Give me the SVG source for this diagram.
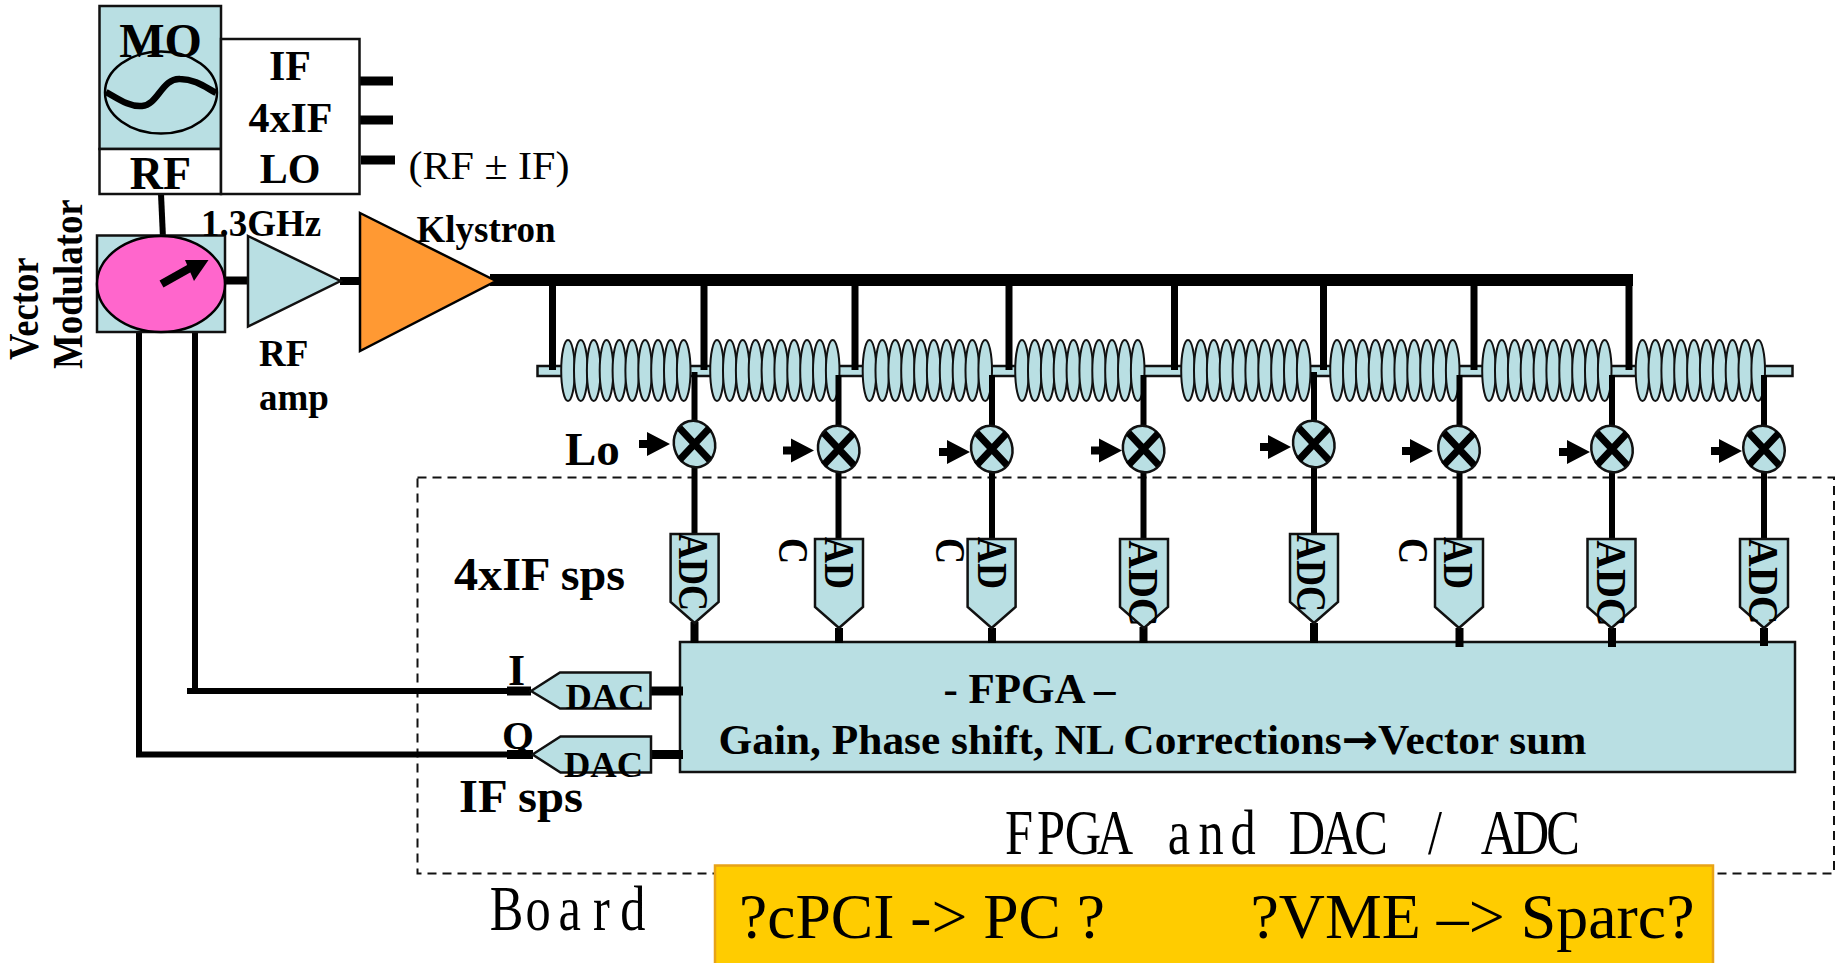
<svg xmlns="http://www.w3.org/2000/svg" xmlns:xlink="http://www.w3.org/1999/xlink" width="1835" height="963" viewBox="0 0 1835 963">
<style>
text{font-family:"Liberation Serif","Times New Roman",serif;fill:#000}
.b{font-weight:bold}
.t{fill:#b9dfe3;stroke:#111;stroke-width:2.5}
.c{fill:#b9dfe3;stroke:#111;stroke-width:2}
.w{fill:#fff;stroke:#111;stroke-width:2.5}
.l{fill:none;stroke:#000;stroke-linecap:butt}
.s6{stroke-width:6}.s7{stroke-width:7}.s8{stroke-width:8}.s9{stroke-width:9}.s12{stroke-width:12}
.m{font-size:36px;font-weight:bold}
</style>
<defs>
<g id="cav">
<ellipse class="c" cx="7" cy="370.5" rx="6.8" ry="30.5"/><ellipse class="c" cx="19.8" cy="370.5" rx="6.8" ry="30.5"/><ellipse class="c" cx="32.7" cy="370.5" rx="6.8" ry="30.5"/><ellipse class="c" cx="45.5" cy="370.5" rx="6.8" ry="30.5"/><ellipse class="c" cx="58.4" cy="370.5" rx="6.8" ry="30.5"/><ellipse class="c" cx="71.2" cy="370.5" rx="6.8" ry="30.5"/><ellipse class="c" cx="84.1" cy="370.5" rx="6.8" ry="30.5"/><ellipse class="c" cx="97" cy="370.5" rx="6.8" ry="30.5"/><ellipse class="c" cx="109.8" cy="370.5" rx="6.8" ry="30.5"/><ellipse class="c" cx="122.7" cy="370.5" rx="6.8" ry="30.5"/>
</g>
<g id="mix">
<ellipse class="t" rx="20.5" ry="23.5" transform="rotate(-15)"/>
<path class="l" d="M-15-16L15 16M15-16L-15 16" stroke-width="7"/>
</g>
<polygon id="lo" points="-31,-4 -23,-4 -23,-12 0,0 -23,12 -23,4 -31,4" fill="#000"/>
<polygon id="adc" class="t" points="-24,0 24,0 24,68 0,89 -24,68"/>
</defs>

<g id="dashed-board"><path d="M417.5 477.5H1834V873.5H417.5Z" fill="none" stroke="#111" stroke-width="2" stroke-dasharray="9 6"/></g>

<g id="cavities">
<rect class="t" x="537.5" y="366" width="1255" height="10"/>
<use xlink:href="#cav" x="561"/><use xlink:href="#cav" x="710"/><use xlink:href="#cav" x="862.5"/><use xlink:href="#cav" x="1015"/><use xlink:href="#cav" x="1181"/><use xlink:href="#cav" x="1330"/><use xlink:href="#cav" x="1482"/><use xlink:href="#cav" x="1635.5"/>
</g>

<g id="fpga">
<rect class="t" x="680" y="642" width="1115" height="130"/>
<text class="b" x="943.5" y="703" font-size="42" textLength="172" lengthAdjust="spacingAndGlyphs">- FPGA –</text>
<text class="b" x="718.5" y="754" font-size="42" textLength="868" lengthAdjust="spacingAndGlyphs">Gain, Phase shift, NL Corrections<tspan style="font-family:'DejaVu Sans',sans-serif">→</tspan>Vector sum</text>
</g>

<g id="connectors">
<path class="l s6" d="M161 194L163 238"/>
<path class="l s8" d="M225 280.5H250M340 281H362"/>
<path class="l s12" d="M490 280H1633"/>
<path class="l s7" d="M552.5 280V370M704 280V370M855 280V370M1009 280V370M1174.5 280V370M1323.5 280V370M1474 280V370M1629 280V370"/>
<path class="l s6" d="M694.5 372V534M838.5 375V539M992 375V539M1143.5 375V539M1314 372V534M1459.5 375V539M1612 375V539M1764 375V539"/>
<path class="l s8" d="M694.5 622V643M839 628V643M992 628V643M1143.5 627V643M1314 623V643M1459.5 628V647M1612 628V647M1764 628V646"/>
<path class="l s9" d="M360 81H393M360 120H393M361 160H395"/>
<path class="l s6" d="M195 332V691M187 691H531M139 332V754.5M136 754.5H533"/>
<path class="l s9" d="M507 691H531M507 754.5H533M650 691H683M651 754.5H683"/>
</g>

<g id="mo">
<rect class="t" x="99.5" y="6" width="121.5" height="143"/>
<ellipse fill="#b9dfe3" stroke="#000" stroke-width="2.5" cx="161" cy="92.5" rx="56" ry="41"/>
<path class="l" stroke-width="6.5" d="M106 92C120 100 130 107 142 106C158 105 162 78 180 79C195 79 205 87 216 93"/>
<text class="b" x="160.5" y="57" font-size="48" text-anchor="middle">MO</text>
</g>
<g id="rf"><rect class="w" x="99.5" y="149" width="121.5" height="45"/><text class="b" x="160.5" y="189" font-size="46" text-anchor="middle">RF</text></g>
<g id="if-box"><rect class="w" x="221" y="39" width="138.5" height="155"/>
<text class="b" x="290" y="80" font-size="42" text-anchor="middle">IF</text>
<text class="b" x="290.5" y="132" font-size="42" text-anchor="middle">4xIF</text>
<text class="b" x="290" y="183" font-size="42" text-anchor="middle">LO</text></g>
<g id="rf-if-label"><text x="408.5" y="179" font-size="41" textLength="161" lengthAdjust="spacingAndGlyphs">(RF ± IF)</text></g>

<g id="vector-modulator">
<rect class="t" x="97" y="235.5" width="128" height="96.5"/>
<ellipse fill="#ff66cc" stroke="#000" stroke-width="2.5" cx="161" cy="284" rx="64" ry="48"/>
<path class="l s8" d="M161.5 284L190 268"/>
<polygon points="208.5,260 185,260 194,281" fill="#000"/>
<text class="b" transform="translate(38,360) rotate(-90) scale(1,1.17)" font-size="36.7">Vector</text>
<text class="b" transform="translate(82,369) rotate(-90) scale(1,1.17)" font-size="36.8">Modulator</text>
</g>
<g id="rf-amp"><polygon class="t" points="248,236 340.5,281 248,326.5"/>
<text class="b" x="259" y="365.5" font-size="37">RF</text><text class="b" x="259" y="410" font-size="37">amp</text></g>
<g id="freq-label"><text class="b" x="201" y="235.5" font-size="37">1.3GHz</text></g>
<g id="klystron"><polygon fill="#ff9933" stroke="#000" stroke-width="2.5" points="360,213 496,281 360,351"/>
<text class="b" x="416.5" y="241.5" font-size="37">Klystron</text></g>

<g id="mixers">
<use xlink:href="#mix" x="694.5" y="444"/><use xlink:href="#mix" x="838.7" y="449"/><use xlink:href="#mix" x="991.8" y="449"/><use xlink:href="#mix" x="1143.6" y="449"/><use xlink:href="#mix" x="1313.8" y="444"/><use xlink:href="#mix" x="1459" y="449"/><use xlink:href="#mix" x="1612" y="449"/><use xlink:href="#mix" x="1764" y="449"/>
<use xlink:href="#lo" x="670" y="444"/><use xlink:href="#lo" x="814" y="450.5"/><use xlink:href="#lo" x="970" y="452"/><use xlink:href="#lo" x="1122" y="450.5"/><use xlink:href="#lo" x="1291" y="447"/><use xlink:href="#lo" x="1433" y="451"/><use xlink:href="#lo" x="1590" y="452"/><use xlink:href="#lo" x="1742" y="451"/>
<text class="b" x="565" y="465" font-size="47">Lo</text>
</g>

<g id="adcs">
<use xlink:href="#adc" x="694.6" y="534"/><use xlink:href="#adc" x="839" y="539"/><use xlink:href="#adc" x="991.6" y="539"/><use xlink:href="#adc" x="1144" y="539"/><use xlink:href="#adc" x="1314" y="534"/><use xlink:href="#adc" x="1459" y="539"/><use xlink:href="#adc" x="1611.5" y="539"/><use xlink:href="#adc" x="1764" y="539"/>
<text class="m" transform="translate(679,533) rotate(90) scale(1,1.17)">ADC</text>
<text class="m" transform="translate(825,537) rotate(90) scale(1,1.17)">AD</text>
<text class="m" transform="translate(779,538) rotate(90) scale(1,1.17)">C</text>
<text class="m" transform="translate(978,537) rotate(90) scale(1,1.17)">AD</text>
<text class="m" transform="translate(936,538) rotate(90) scale(1,1.17)">C</text>
<text class="m" transform="translate(1129,540) rotate(90) scale(1,1.05)" style="font-size:40px">ADC</text>
<text class="m" transform="translate(1297,534) rotate(90) scale(1,1.17)">ADC</text>
<text class="m" transform="translate(1444,537) rotate(90) scale(1,1.17)">AD</text>
<text class="m" transform="translate(1399,538) rotate(90) scale(1,1.17)">C</text>
<text class="m" transform="translate(1597,540) rotate(90) scale(1,1.05)" style="font-size:40px">ADC</text>
<text class="m" transform="translate(1749,538) rotate(90) scale(1,1.05)" style="font-size:40px">ADC</text>
<text class="b" x="454" y="590" font-size="47" textLength="171" lengthAdjust="spacingAndGlyphs">4xIF sps</text>
</g>

<g id="dacs">
<polygon class="t" points="531,691 560,672.5 650.5,672.5 650.5,708.5 560,708.5"/>
<polygon class="t" points="532.5,754.5 560.5,736.5 651,736.5 651,772.5 560.5,772.5"/>
<text class="b" x="565.5" y="709" font-size="36.5">DAC</text>
<text class="b" x="564" y="776.5" font-size="36.5">DAC</text>
<text class="b" x="508" y="685" font-size="44">I</text>
<text class="b" x="502" y="749" font-size="41">Q</text>
<text class="b" x="459" y="811.5" font-size="47" textLength="124" lengthAdjust="spacingAndGlyphs">IF sps</text>
</g>

<g id="board-label">
<text transform="translate(1019,854) scale(.8,1)" font-size="63" text-anchor="middle" x="0 40 80 120 160 200 240 280 320 360 400 440 480 520 560 600 640 680">FPGA and DAC / ADC</text>
<text transform="translate(506.5,930) scale(.8,1)" font-size="63" text-anchor="middle" x="0 39.5 79 118.5 158">Board</text>
</g>

<g id="options">
<rect fill="#ffcc00" stroke="#e8a317" stroke-width="2.5" x="715" y="865.5" width="998" height="100"/>
<text x="739" y="937.5" font-size="63" textLength="366" lengthAdjust="spacingAndGlyphs">?cPCI -&gt; PC ?</text>
<text x="1250.5" y="937.5" font-size="63" textLength="444" lengthAdjust="spacingAndGlyphs">?VME –&gt; Sparc?</text>
</g>
</svg>
